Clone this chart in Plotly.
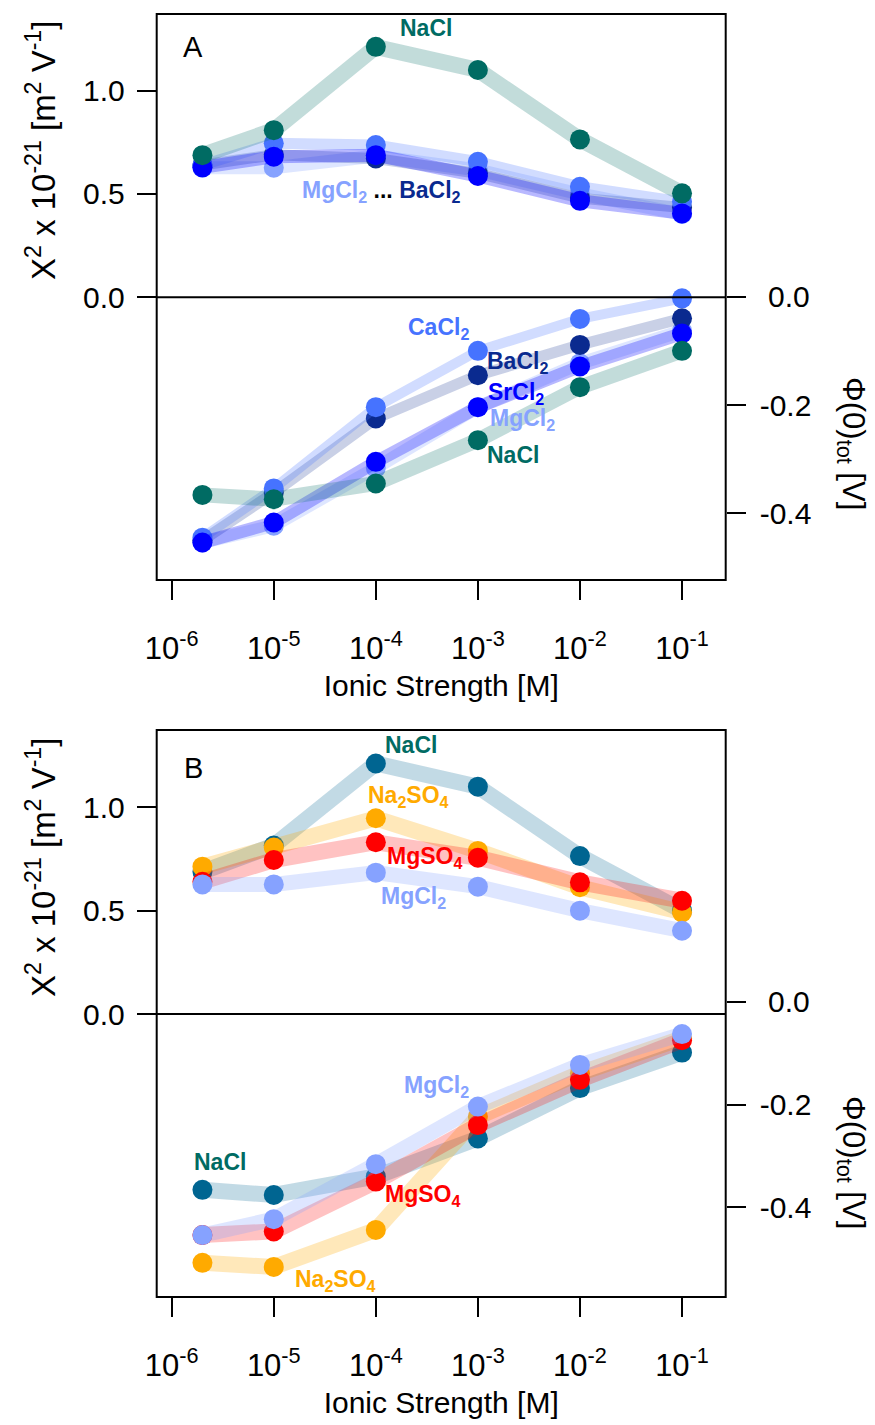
import plotly.graph_objects as go

W, H = 875, 1425

# ---------------- data ----------------
ionic = [2e-6, 1e-5, 1e-4, 1e-3, 1e-2, 1e-1]
xtick_vals = [1e-6, 1e-5, 1e-4, 1e-3, 1e-2, 1e-1]
xtick_text = ["10<sup>-6</sup>", "10<sup>-5</sup>", "10<sup>-4</sup>",
              "10<sup>-3</sup>", "10<sup>-2</sup>", "10<sup>-1</sup>"]

# Panel A : chi^2 (upper, left axis)
a_nacl_chi = [0.688, 0.809, 1.212, 1.100, 0.764, 0.503]
a_mgcl2_chi = [0.627, 0.627, 0.684, 0.616, 0.500, 0.403]
a_bacl2_chi = [0.640, 0.690, 0.672, 0.600, 0.480, 0.435]
a_cacl2_chi = [0.640, 0.745, 0.737, 0.656, 0.535, 0.462]
a_srcl2_chi = [0.629, 0.680, 0.688, 0.587, 0.467, 0.406]
# Panel A : phi(0)tot (lower, right axis)
a_nacl_phi = [-0.366, -0.374, -0.345, -0.265, -0.167, -0.100]
a_mgcl2_phi = [-0.454, -0.423, -0.316, -0.204, -0.123, -0.063]
a_bacl2_phi = [-0.450, -0.362, -0.225, -0.145, -0.089, -0.040]
a_cacl2_phi = [-0.445, -0.354, -0.204, -0.100, -0.041, -0.003]
a_srcl2_phi = [-0.454, -0.417, -0.305, -0.204, -0.129, -0.068]

# Panel B
b_nacl_chi = [0.688, 0.815, 1.212, 1.100, 0.764, 0.500]
b_na2so4_chi = [0.713, 0.805, 0.947, 0.789, 0.613, 0.492]
b_mgso4_chi = [0.640, 0.745, 0.831, 0.756, 0.637, 0.548]
b_mgcl2_chi = [0.627, 0.627, 0.684, 0.616, 0.500, 0.403]
b_nacl_phi = [-0.366, -0.376, -0.340, -0.266, -0.168, -0.099]
b_na2so4_phi = [-0.508, -0.516, -0.444, -0.224, -0.139, -0.071]
b_mgso4_phi = [-0.454, -0.447, -0.350, -0.240, -0.152, -0.075]
b_mgcl2_phi = [-0.454, -0.423, -0.316, -0.204, -0.123, -0.063]

# ---------------- styles ----------------
FONT = "Liberation Sans, Arial, sans-serif"
C_NACL = "#006B63"
C_NACL_B = "#006591"
C_MGCL2 = "#86A2FF"
C_BACL2 = "#0A2A8F"
C_CACL2 = "#4673FF"
C_SRCL2 = "#0000FF"
C_NA2SO4 = "#FFAA00"
C_MGSO4 = "#FF0000"


def px(x, y):
    return x / W, 1 - y / H


def series(x, y, xa, ya, color, band, width):
    return go.Scatter(x=x, y=y, xaxis=xa, yaxis=ya, mode="lines+markers",
                      line=dict(color=band, width=width),
                      marker=dict(color=color, size=20, line=dict(width=0)),
                      showlegend=False, hoverinfo="skip")


fig = go.Figure()

# Panel A upper
for y, c, b, w in [(a_mgcl2_chi, C_MGCL2, "rgba(134,162,255,0.27)", 13),
                   (a_bacl2_chi, C_BACL2, "rgba(10,42,143,0.22)", 11),
                   (a_cacl2_chi, C_CACL2, "rgba(70,115,255,0.25)", 11),
                   (a_srcl2_chi, C_SRCL2, "rgba(0,0,255,0.28)", 13),
                   (a_nacl_chi, C_NACL, "rgba(0,107,99,0.24)", 16)]:
    fig.add_trace(series(ionic, y, "x", "y", c, b, w))
# Panel A lower
for y, c, b, w in [(a_mgcl2_phi, C_MGCL2, "rgba(134,162,255,0.27)", 13),
                   (a_bacl2_phi, C_BACL2, "rgba(10,42,143,0.22)", 11),
                   (a_cacl2_phi, C_CACL2, "rgba(70,115,255,0.25)", 10),
                   (a_srcl2_phi, C_SRCL2, "rgba(0,0,255,0.28)", 13),
                   (a_nacl_phi, C_NACL, "rgba(0,107,99,0.24)", 15)]:
    fig.add_trace(series(ionic, y, "x", "y2", c, b, w))
# Panel B upper
for y, c, b, w in [(b_nacl_chi, C_NACL_B, "rgba(0,100,145,0.24)", 16),
                   (b_na2so4_chi, C_NA2SO4, "rgba(255,170,0,0.27)", 16),
                   (b_mgso4_chi, C_MGSO4, "rgba(255,0,0,0.24)", 16),
                   (b_mgcl2_chi, C_MGCL2, "rgba(134,162,255,0.27)", 15)]:
    fig.add_trace(series(ionic, y, "x2", "y3", c, b, w))
# Panel B lower
for y, c, b, w in [(b_nacl_phi, C_NACL_B, "rgba(0,100,145,0.24)", 16),
                   (b_na2so4_phi, C_NA2SO4, "rgba(255,170,0,0.27)", 16),
                   (b_mgso4_phi, C_MGSO4, "rgba(255,0,0,0.24)", 16),
                   (b_mgcl2_phi, C_MGCL2, "rgba(134,162,255,0.27)", 15)]:
    fig.add_trace(series(ionic, y, "x2", "y4", c, b, w))

XDOM = [156.7 / W, 725.7 / W]
A_DOM = [1 - 580 / H, 1 - 14 / H]
B_DOM = [1 - 1297 / H, 1 - 730 / H]
XRANGE = [-6.147, -0.572]

tickfont = dict(family=FONT, size=30, color="black")
common_ticks = dict(ticks="outside", ticklen=19, tickwidth=2, tickcolor="black",
                    showgrid=False, zeroline=False, showline=False,
                    fixedrange=True, automargin=False)

xcommon = dict(type="log", range=XRANGE, domain=XDOM, tickmode="array",
               tickvals=xtick_vals, ticktext=xtick_text, ticklabelstandoff=22,
               tickfont=dict(family=FONT, size=31, color="black"),
               title=dict(text="Ionic Strength [M]",
                          font=dict(family=FONT, size=30, color="black"),
                          standoff=9),
               **common_ticks)

fig.update_layout(
    width=W, height=H, margin=dict(l=0, r=0, t=0, b=0, autoexpand=False),
    paper_bgcolor="white", plot_bgcolor="white",
    xaxis=dict(anchor="y", **xcommon),
    xaxis2=dict(anchor="y3", **xcommon),
    yaxis=dict(domain=A_DOM, anchor="x", range=[-1.368, 1.371], tickmode="array",
               tickvals=[0, 0.5, 1.0], ticktext=["0.0", "0.5", "1.0"],
               ticklabelstandoff=6, tickfont=tickfont, **common_ticks),
    yaxis2=dict(overlaying="y", side="right", anchor="x", range=[-0.5232, 0.5221],
                tickmode="array", tickvals=[0, -0.2, -0.4],
                ticktext=["\u00a00.0", "-0.2", "-0.4"], ticklabelstandoff=8,
                tickfont=tickfont, **common_ticks),
    yaxis3=dict(domain=B_DOM, anchor="x2", range=[-1.369, 1.374], tickmode="array",
                tickvals=[0, 0.5, 1.0], ticktext=["0.0", "0.5", "1.0"],
                ticklabelstandoff=6, tickfont=tickfont, **common_ticks),
    yaxis4=dict(overlaying="y3", side="right", anchor="x2", range=[-0.5745, 0.5286],
                tickmode="array", tickvals=[0, -0.2, -0.4],
                ticktext=["\u00a00.0", "-0.2", "-0.4"], ticklabelstandoff=8,
                tickfont=tickfont, **common_ticks),
)

# boxes and zero lines
for xr, yr in [("x", "y"), ("x2", "y3")]:
    fig.add_shape(type="rect", xref=f"{xr} domain", yref=f"{yr} domain",
                  x0=0, x1=1, y0=0, y1=1, line=dict(color="black", width=2))
    fig.add_shape(type="line", xref=f"{xr} domain", yref=yr,
                  x0=0, x1=1, y0=0, y1=0, line=dict(color="black", width=2))


def ann(text, x, y, color="black", size=23, bold=True, angle=0):
    xp, yp = px(x, y)
    t = f"<b>{text}</b>" if bold else text
    fig.add_annotation(x=xp, y=yp, xref="paper", yref="paper", text=t,
                       showarrow=False, textangle=angle, xanchor="center",
                       yanchor="middle",
                       font=dict(family=FONT, size=size, color=color))


# axis titles
YT = "X<sup>2</sup> x 10<sup>-21</sup> [m<sup>2</sup> V<sup>-1</sup>]"
PT = "\u03a6(0)<sub>tot</sub> [V]"
ann(YT, 41, 151, bold=False, size=33, angle=-90)
ann(YT, 41, 868, bold=False, size=33, angle=-90)
ann(PT, 851, 443, bold=False, size=31, angle=90)
ann(PT, 851, 1162, bold=False, size=31, angle=90)

# panel letters
ann("A", 193, 47, bold=False, size=29)
ann("B", 193, 768, bold=False, size=29)

# Panel A labels
ann("NaCl", 426, 28, C_NACL)
ann(f"<span style='color:{C_MGCL2}'>MgCl<sub>2</sub></span> ... "
    f"<span style='color:{C_BACL2}'>BaCl<sub>2</sub></span>", 381, 191, "black")
ann("CaCl<sub>2</sub>", 439, 328, C_CACL2)
ann("BaCl<sub>2</sub>", 517, 362, C_BACL2)
ann("SrCl<sub>2</sub>", 516, 393, C_SRCL2)
ann("MgCl<sub>2</sub>", 522, 419, C_MGCL2)
ann("NaCl", 513, 455, C_NACL)

# Panel B labels
ann("NaCl", 411, 745, C_NACL)
ann("Na<sub>2</sub>SO<sub>4</sub>", 408, 796, C_NA2SO4)
ann("MgSO<sub>4</sub>", 424, 857, C_MGSO4)
ann("MgCl<sub>2</sub>", 413, 897, C_MGCL2)
ann("MgCl<sub>2</sub>", 436, 1086, C_MGCL2)
ann("NaCl", 220, 1162, C_NACL)
ann("MgSO<sub>4</sub>", 422, 1195, C_MGSO4)
ann("Na<sub>2</sub>SO<sub>4</sub>", 335, 1280, C_NA2SO4)

fig.write_html("out.html", config={"displayModeBar": False},
               post_script="document.body.style.margin='0';"
                           "document.body.style.overflow='hidden';")
